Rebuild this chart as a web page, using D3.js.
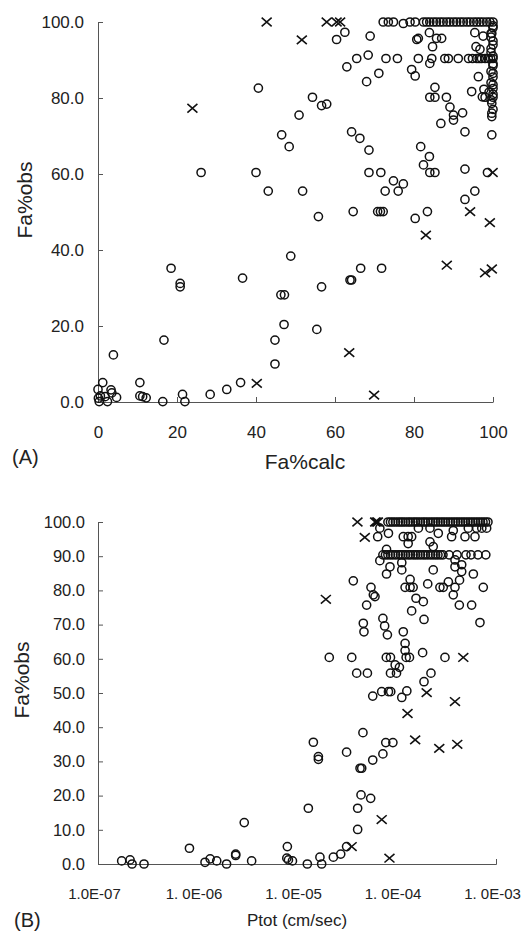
<!DOCTYPE html>
<html>
<head>
<meta charset="utf-8">
<script src="https://cdn.jsdelivr.net/npm/d3@7"></script>
<style>
  html, body { margin: 0; padding: 0; background: #fff; }
  svg { display: block; font-family: "Liberation Sans", Arial, sans-serif; }
  .axis path, .axis line { stroke: #555; stroke-width: 1; }
  .axis text { fill: #222; }
</style>
</head>
<body>
<script>
// ---- Panel A: observed vs calculated fraction absorbed ----
const calcTicks = [0, 20, 40, 60, 80, 100];
const obsTicksA = [0, 20, 40, 60, 80, 100];

// [Fa%calc, Fa%obs] — open circles
const aCircles = [
  [0,3.3],[0.1,1],[0.3,0.1],[0.6,1.6],[1.2,5.1],[1.8,1.4],[2.4,0.1],[3.3,3.2],[3.5,2.4],[4.7,1.2],[3.9,12.4],
  [10.6,5.1],[10.6,1.6],[11.3,1.4],[12.2,1.1],[16.4,0.1],[16.7,16.3],[18.5,35.2],[20.8,31.2],[20.8,30.3],[21.4,2],[22,0.1],
  [28.4,2],[32.6,3.3],[36.1,5.1],[36.6,32.6],[44.8,16.3],[44.8,10],[46.3,28.2],[47.2,28.2],[47.1,20.4],[48.8,38.4],
  [55.4,19.1],[56.6,30.3],[63.8,32.1],[64.2,32.1],[66.5,35.2],[71.8,35.2],
  [26.1,60.4],[40,60.4],[43.1,55.5],[51.8,55.5],[55.8,48.8],[46.5,70.3],[48.4,67.2],[64.2,71.1],[66.3,69.4],[68.6,66.3],
  [64.6,50.1],[70.8,50.1],[71.5,50.1],[72.2,50.1],[68.6,60.4],[71.6,60.4],[72.7,55.5],[76,55.5],[74.8,58.2],[77.3,57.4],
  [80.3,48.3],[83.4,50.1],[81.7,67.2],[83.9,64.6],[82.4,62.4],[84,60.4],[85.3,60.4],[86.8,73.3],[90,74.2],[92.9,71.1],
  [99.7,70.3],[92.9,61.3],[98.6,60.4],[95.4,55.5],[92.9,53.3],
  [40.6,82.6],[54.3,80.2],[56.6,78],[57.9,78.4],[50.9,75.5],[63,88.2],[65.5,90.4],[68.4,91.3],[68,84.3],[71.1,86.5],
  [72.9,90.4],[75.8,90.4],[60.4,95.4],[62.5,97.3],[68.9,96.3],[80.7,95.4],[79.4,87.5],[80.3,85.8],[83.9,97.2],[84.7,93.5],
  [84,89.1],[85.3,82.8],[84,80.2],[85.3,80.2],[88.2,80.2],[89.1,77.6],[90,75.5],[92.3,76.1],[95.4,97.2],[97.5,96.3],
  [95.7,93.5],[96.7,92.8],[96.3,85.6],[94.6,81.7],[97.3,80.3],[81.1,95.7],[85.7,95.7],[87,95.7],[99.7,97],
  [81.1,90.4],[84.5,90.4],[87.8,90.4],[88.7,90.4],[91.2,90.4],[93.8,90.4],[94.8,90.4],[95.9,90.4],[96.5,90.4],
  [97.1,90.4],[98,90.4],[98.8,90.4],[99.4,90.4],[100,90.4],
  [72.2,100],[73.5,100],[74.8,100],[77.3,99.6],[79,100],[80.3,100],[82.4,100],[83.2,100],[84,100],[84.9,100],
  [85.7,100],[86.6,100],[87.4,100],[88.3,100],[89.1,100],[90,100],[90.8,100],[91.7,100],[92.5,100],[93.4,100],
  [94.2,100],[95.1,100],[95.9,100],[96.7,100],[97.5,100],[98.4,100],[99.2,100],[100,100],
  [100,99],[100,98.5],[99.5,97],[99.5,96],[100,95],[100,94],[99.5,93],[99.5,92],[100,91],[100,89],[100,88.5],
  [99.5,87],[100,86.5],[100,85.5],[99.5,84],[100,83.5],[100,82.5],[99,81.5],[100,81],[100,80.2],[99.5,79.5],
  [99.7,78.6],[100,77],[99.7,76],[99.7,75.1],[98,80.2],[97.7,82.3]
];

// [Fa%calc, Fa%obs] — crosses
const aCrosses = [
  [42.7,100],[57.9,100],[60.4,100],[61.3,100],[51.6,95.3],[23.9,77.3],[99.9,60.4],[94.2,50.1],
  [99.2,47.2],[83,43.9],[88.3,36],[98,34],[99.7,35],[40.2,4.9],[63.6,13],[69.9,1.8]
];

// ---- Panel B: observed fraction absorbed vs total permeability ----
const ptotTicks = [1e-7, 1e-6, 1e-5, 1e-4, 1e-3];
const ptotTickLabels = ["1.0E-07", "1. 0E-06", "1. 0E-05", "1. 0E-04", "1. 0E-03"];
const obsTicksB = [0, 10, 20, 30, 40, 50, 60, 70, 80, 90, 100];

// [Ptot (cm/sec), Fa%obs] — open circles
const bCircles = [
  [1.73e-7,0.9],[2.1e-7,1.2],[2.2e-7,0],[2.9e-7,0],[8.3e-7,4.6],[1.19e-6,0.5],[1.34e-6,1.5],[1.56e-6,0.9],[1.96e-6,0],
  [2.42e-6,2.5],[2.42e-6,2.9],[2.95e-6,12.1],[3.5e-6,0.9],[8.0e-6,5.1],[7.9e-6,1.7],[8.2e-6,1.2],[9.0e-6,0.9],
  [1.27e-5,0],[1.3e-5,16.3],[1.7e-5,2],[1.77e-5,0],[2.32e-5,2],[2.75e-5,2.9],[3.15e-5,5.1],[4.07e-5,10.1],
  [4.07e-5,16.3],[4.4e-5,20.2],[5.5e-5,19.2],
  [1.46e-5,35.6],[1.64e-5,31.4],[1.64e-5,30.6],[3.15e-5,32.7],[4.3e-5,28],[4.47e-5,28],[4.6e-5,38.4],[5.77e-5,30.4],
  [7.3e-5,32.2],[7.8e-5,35.5],[9.2e-5,35.5],
  [2.11e-5,60.4],[3.55e-5,60.4],[3.98e-5,55.8],[5.1e-5,55.8],[5.77e-5,49.1],[7.1e-5,50.4],[8.3e-5,50.4],[8.75e-5,50.4],
  [7.9e-5,60.4],[8.7e-5,60.4],[8.7e-5,55.8],[1.0e-4,55.8],[9.7e-5,58.2],[1.07e-4,57.5],[1.22e-4,64.5],[1.22e-4,62.4],
  [1.25e-4,60.4],[1.35e-4,60.4],[1.13e-4,48.7],[1.27e-4,50.6],[1.83e-4,61.8],[1.89e-4,53.3],[2.22e-4,55.8],[3.07e-4,60.4],
  [4.64e-5,70.4],[4.71e-5,67.9],[7.3e-5,71.8],[7.6e-5,69.6],[8.1e-5,67],[1.17e-4,67.9],[1.89e-4,71.5],[1.42e-4,74],
  [1.57e-4,77.7],[1.86e-4,76.7],[5.01e-5,75.7],[4.28e-4,75.7],[5.69e-4,75.7],[6.9e-4,70.6],
  [3.68e-5,82.8],[5.54e-5,80.9],[5.85e-5,78.7],[6.08e-5,78.2],[6.8e-5,88.7],[7.94e-5,92],[7.94e-5,84.8],[8.6e-5,86.9],
  [1.13e-4,88.1],[1.13e-4,86],[1.37e-4,83.2],[1.22e-4,80.9],[1.37e-4,80.9],[1.47e-4,80.9],[2.06e-4,81.9],[2.34e-4,86],
  [2.17e-4,94.2],[2.34e-4,92.8],[2.73e-4,80.9],[2.95e-4,80.9],[3.32e-4,82.5],[3.72e-4,78.7],[5.92e-4,84.8],[7.45e-4,80.9],
  [3.87e-4,88.9],[3.87e-4,86.9],[4.52e-4,87.5],[4.52e-4,85.5],[4.3e-4,83],[3.87e-4,80.9],
  [6.8e-5,98.2],[8.3e-5,96.7],[6.47e-5,95.7],[1.17e-4,95.7],[1.31e-4,95.7],[1.42e-4,95.7],[1.31e-4,93.7],[1.66e-4,98.2],
  [2.17e-4,98.2],[2.63e-4,96.7],[3.58e-4,95.7],[3.72e-4,97.5],[4.88e-4,95.7],[5.27e-4,98.2],[6.15e-4,95.7],[6.4e-4,98.2],
  [7.2e-4,98.2],[8.05e-4,98.2],
  [8.2e-5,100],[8.7e-5,100],[9.2e-5,100],[9.77e-5,100],[1.04e-4,100],[1.1e-4,100],[1.16e-4,100],[1.23e-4,100],
  [1.31e-4,100],[1.38e-4,100],[1.47e-4,100],[1.55e-4,100],[1.64e-4,100],[1.74e-4,100],[1.85e-4,100],[1.95e-4,100],
  [2.07e-4,100],[2.2e-4,100],[2.33e-4,100],[2.47e-4,100],[2.61e-4,100],[2.77e-4,100],[2.93e-4,100],[3.1e-4,100],
  [3.29e-4,100],[3.49e-4,100],[3.7e-4,100],[3.92e-4,100],[4.15e-4,100],[4.4e-4,100],[4.66e-4,100],[4.93e-4,100],
  [5.23e-4,100],[5.54e-4,100],[5.87e-4,100],[6.22e-4,100],[6.59e-4,100],[6.98e-4,100],[7.4e-4,100],[7.84e-4,100],
  [8.3e-4,100],
  [7.3e-5,90.4],[7.75e-5,90.4],[8.2e-5,90.4],[8.7e-5,90.4],[9.2e-5,90.4],[9.77e-5,90.4],[1.04e-4,90.4],[1.1e-4,90.4],
  [1.16e-4,90.4],[1.23e-4,90.4],[1.31e-4,90.4],[1.38e-4,90.4],[1.47e-4,90.4],[1.55e-4,90.4],[1.64e-4,90.4],
  [1.74e-4,90.4],[1.85e-4,90.4],[1.95e-4,90.4],[2.07e-4,90.4],[2.2e-4,90.4],[2.33e-4,90.4],[2.47e-4,90.4],
  [2.61e-4,90.4],[2.77e-4,90.4],[2.93e-4,90.4],[3.38e-4,90.4],[4.06e-4,90.4],[4.99e-4,90.4],[5.61e-4,90.4],
  [6.59e-4,90.4],[7.9e-4,90.4]
];

// [Ptot (cm/sec), Fa%obs] — crosses
const bCrosses = [
  [4.05e-5,100],[6.1e-5,100],[6.3e-5,100],[6.5e-5,100],[4.8e-5,95.5],[1.95e-5,77.4],[4.69e-4,60.4],[2.01e-4,50.1],
  [3.87e-4,47.5],[1.29e-4,44],[1.54e-4,36.3],[2.69e-4,33.8],[4.08e-4,35],[3.54e-5,5.1],[7.1e-5,13],[8.5e-5,1.7]
];

const W = 524, H = 932;
const svg = d3.select("body").append("svg").attr("width", W).attr("height", H);

const crossPath = "M-5,-4.3L5,4.3M-5,4.3L5,-4.3";

function drawMarks(g, x, y, circles, crosses) {
  g.append("g").selectAll("circle").data(circles).join("circle")
    .attr("cx", d => x(d[0])).attr("cy", d => y(d[1])).attr("r", 4.1)
    .attr("fill", "none").attr("stroke", "#111").attr("stroke-width", 1.5);
  g.append("g").selectAll("path").data(crosses).join("path")
    .attr("transform", d => `translate(${x(d[0])},${y(d[1])})`)
    .attr("d", crossPath).attr("fill", "none").attr("stroke", "#111").attr("stroke-width", 1.6);
}

// ---------- Panel A ----------
const xA = d3.scaleLinear().domain([0, 100]).range([98, 493]);
const yA = d3.scaleLinear().domain([0, 100]).range([402, 22]);

svg.append("g").attr("class", "axis").attr("transform", "translate(0,402)")
  .call(d3.axisBottom(xA).tickValues(calcTicks).tickFormat(d3.format("d"))
    .tickSizeInner(-5).tickSizeOuter(0).tickPadding(24))
  .call(g => g.selectAll("text").attr("font-size", 17));

svg.append("g").attr("class", "axis").attr("transform", "translate(98,0)")
  .call(d3.axisLeft(yA).tickValues(obsTicksA).tickFormat(d3.format(".1f"))
    .tickSizeInner(-5).tickSizeOuter(0).tickPadding(14))
  .call(g => g.selectAll("text").attr("font-size", 17));

drawMarks(svg.append("g"), xA, yA, aCircles, aCrosses);

svg.append("text").attr("x", 305).attr("y", 469).attr("text-anchor", "middle")
  .attr("font-size", 21).attr("fill", "#222").text("Fa%calc");
svg.append("text").attr("x", 12).attr("y", 464)
  .attr("font-size", 20).attr("fill", "#222").text("(A)");
svg.append("text").attr("transform", "translate(32,200) rotate(-90)").attr("text-anchor", "middle")
  .attr("font-size", 21).attr("fill", "#222").text("Fa%obs");

// ---------- Panel B ----------
const xB = d3.scaleLog().domain([1e-7, 1e-3]).range([98, 496]);
const yB = d3.scaleLinear().domain([0, 100]).range([864, 522]);

svg.append("g").attr("class", "axis").attr("transform", "translate(0,864)")
  .call(d3.axisBottom(xB).tickValues(ptotTicks).tickFormat((d, i) => ptotTickLabels[i])
    .tickSizeInner(0).tickSizeOuter(-5).tickPadding(24))
  .call(g => g.selectAll("text").attr("font-size", 15).attr("dx", -4));

svg.append("g").attr("class", "axis").attr("transform", "translate(98,0)")
  .call(d3.axisLeft(yB).tickValues(obsTicksB).tickFormat(d3.format(".1f"))
    .tickSizeInner(-5).tickSizeOuter(0).tickPadding(13))
  .call(g => g.selectAll("text").attr("font-size", 16.5));

drawMarks(svg.append("g"), xB, yB, bCircles, bCrosses);

svg.append("text").attr("x", 297).attr("y", 926).attr("text-anchor", "middle")
  .attr("font-size", 17).attr("fill", "#222").text("Ptot (cm/sec)");
svg.append("text").attr("x", 14).attr("y", 927)
  .attr("font-size", 20).attr("fill", "#222").text("(B)");
svg.append("text").attr("transform", "translate(29,680) rotate(-90)").attr("text-anchor", "middle")
  .attr("font-size", 21).attr("fill", "#222").text("Fa%obs");
</script>
</body>
</html>
